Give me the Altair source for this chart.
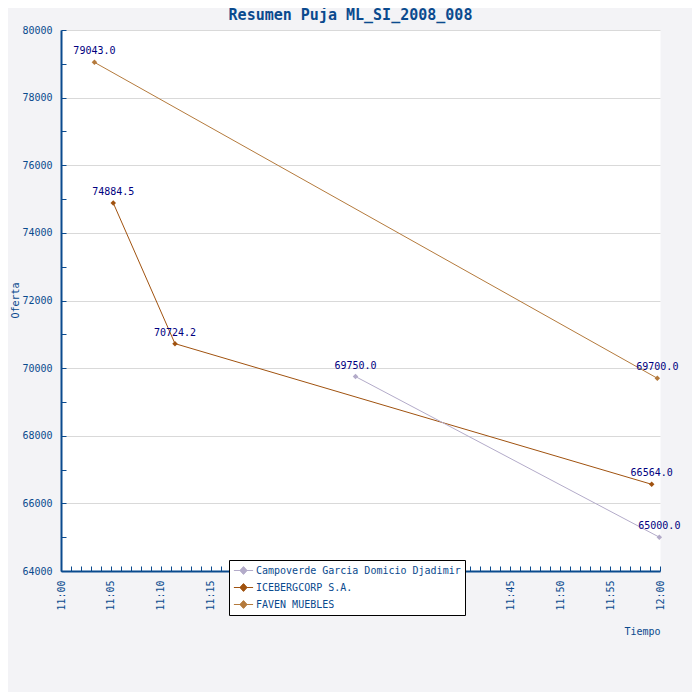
import altair as alt
import pandas as pd

# ---- data ----
bidders = [
    "FAVEN MUEBLES", "FAVEN MUEBLES",
    "ICEBERGCORP S.A.", "ICEBERGCORP S.A.", "ICEBERGCORP S.A.",
    "Campoverde Garcia Domicio Djadimir", "Campoverde Garcia Domicio Djadimir",
]
times = ["11:03:21", "11:59:44", "11:05:14", "11:11:25", "11:59:10", "11:29:30", "11:59:56"]
offers = [79043.0, 69700.0, 74884.5, 70724.2, 66564.0, 69750.0, 65000.0]

series_order = ["Campoverde Garcia Domicio Djadimir", "ICEBERGCORP S.A.", "FAVEN MUEBLES"]
series_colors = ["#b3abc9", "#a0520f", "#b47a3c"]

y_ticks = list(range(64000, 80001, 1000))
x_ticks = list(range(0, 61))


def to_minutes(t):
    h, m, s = (int(v) for v in t.split(":"))
    return (h - 11) * 60 + m + s / 60.0


df = pd.DataFrame({"Postor": bidders, "Hora": times, "Oferta": offers})
df["Minuto"] = df["Hora"].map(to_minutes)

AXIS = "#0a4a8e"
FONT = "DejaVu Sans Mono"

color_scale = alt.Scale(domain=series_order, range=series_colors)

x_enc = alt.X(
    "Minuto:Q",
    scale=alt.Scale(domain=[0, 60], nice=False, zero=False),
    axis=alt.Axis(
        values=x_ticks,
        labelExpr="datum.value % 5 === 0 ? (datum.value === 60 ? '12:00' : '11:' + (datum.value < 10 ? '0' : '') + datum.value) : ''",
        labelAngle=-90,
        labelOverlap=False,
        labelFlush=False,
        labelPadding=14,
        tickSize={"expr": "-5"},
        grid=False,
        title="Tiempo",
        titleX=599,
        titleY=60,
        titleAlign="right",
        titleAnchor="end",
        titleBaseline="middle",
        titleAngle=0,
    ),
)

y_enc = alt.Y(
    "Oferta:Q",
    scale=alt.Scale(domain=[64000, 80000], nice=False, zero=False),
    axis=alt.Axis(
        values=y_ticks,
        format="d",
        labelExpr="datum.value % 2000 === 0 ? datum.label : ''",
        labelOverlap=False,
        labelFlush=False,
        labelPadding=14,
        tickSize={"expr": "-5"},
        grid=True,
        gridColor="#d9d9d9",
        gridOpacity={"condition": {"test": "datum.value % 2000 === 0", "value": 1}, "value": 0},
        title="Oferta",
        titleX=-46,
        titleY=270,
        titleAngle=270,
        titleAlign="center",
        titleBaseline="middle",
    ),
)

legend = alt.Legend(
    title=None,
    orient="none",
    legendX=168,
    legendY=530,
    direction="vertical",
    fillColor="white",
    strokeColor="black",
    padding=4,
    rowPadding=4,
    labelFont=FONT,
    labelFontSize=10,
    labelColor=AXIS,
    labelLimit=400,
    labelOffset=6,
    symbolType="M-1.6,0L1.6,0M0,-0.65L0.6,0L0,0.65L-0.6,0Z",
    symbolSize=144,
    symbolStrokeWidth=1,
    symbolOffset=4,
)

base = alt.Chart(df).encode(x=x_enc, y=y_enc)

points = base.mark_point(shape="diamond", filled=True, size=30, opacity=1).encode(
    color=alt.Color("Postor:N", scale=color_scale, legend=legend),
)

lines = base.mark_line(strokeWidth=1).encode(
    color=alt.Color("Postor:N", scale=color_scale),
    detail="Postor:N",
)

labels = base.mark_text(dy=-11, font=FONT, fontSize=10, color="#000080").encode(
    text=alt.Text("Oferta:Q", format=".1f")
)

chart = (
    alt.layer(points, lines, labels)
    .properties(
        width=599,
        height=541,
        autosize=alt.AutoSizeParams(type="none"),
        padding={"left": 53, "top": 22, "right": 32, "bottom": 121},
        background="#f3f3f6",
        title=alt.TitleParams(
            "Resumen Puja ML_SI_2008_008",
            font=FONT,
            fontSize=15,
            fontWeight="bold",
            color=AXIS,
            anchor="middle",
            dx=-10,
            offset=2,
        ),
    )
    .configure_view(fill="white", stroke="transparent")
    .configure_axis(
        domainColor=AXIS,
        domainWidth=2,
        tickColor=AXIS,
        tickWidth=1,
        labelColor=AXIS,
        labelFont=FONT,
        labelFontSize=10,
        titleColor=AXIS,
        titleFont=FONT,
        titleFontSize=10,
        titleFontWeight="normal",
    )
)

chart.save("out.html", embed_options={"renderer": "svg", "actions": False})
